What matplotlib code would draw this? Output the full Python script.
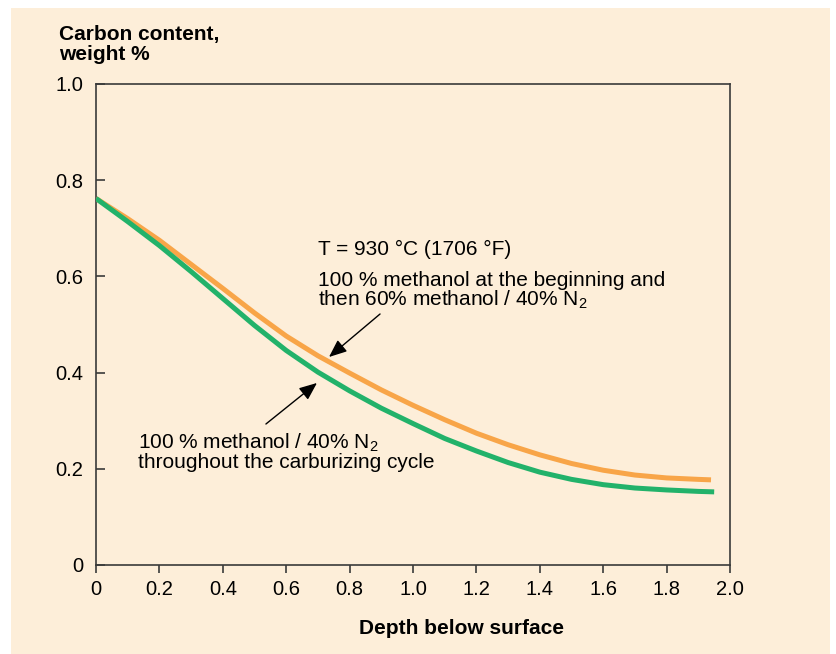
import matplotlib
matplotlib.use("Agg")
import matplotlib.pyplot as plt
from matplotlib.patches import Rectangle

plt.rcParams['font.family'] = ['Liberation Sans', 'DejaVu Sans']
plt.rcParams['mathtext.fontset'] = 'custom'
plt.rcParams['mathtext.rm'] = 'Liberation Sans'
plt.rcParams['mathtext.it'] = 'Liberation Sans:italic'
plt.rcParams['mathtext.bf'] = 'Liberation Sans:bold'

# --- data (depth vs carbon content, weight %) ---
depth = [0.0, 0.1, 0.2, 0.3, 0.4, 0.5, 0.6, 0.7, 0.8, 0.9, 1.0,
         1.1, 1.2, 1.3, 1.4, 1.5, 1.6, 1.7, 1.8, 1.9, 1.94]
carbon_switch = [0.762, 0.720, 0.675, 0.625, 0.575, 0.524, 0.476, 0.435, 0.399, 0.364, 0.332,
                 0.302, 0.274, 0.250, 0.229, 0.211, 0.197, 0.187, 0.181, 0.178, 0.177]

depth_n2 = [0.0, 0.1, 0.2, 0.3, 0.4, 0.5, 0.6, 0.7, 0.8, 0.9, 1.0,
            1.1, 1.2, 1.3, 1.4, 1.5, 1.6, 1.7, 1.8, 1.9, 1.95]
carbon_n2 = [0.762, 0.714, 0.664, 0.610, 0.554, 0.498, 0.446, 0.401, 0.362, 0.326, 0.294,
             0.263, 0.237, 0.213, 0.193, 0.178, 0.167, 0.160, 0.156, 0.153, 0.152]

xticks = [0, 0.2, 0.4, 0.6, 0.8, 1.0, 1.2, 1.4, 1.6, 1.8, 2.0]
xticklabels = ['0', '0.2', '0.4', '0.6', '0.8', '1.0', '1.2', '1.4', '1.6', '1.8', '2.0']
yticks = [0, 0.2, 0.4, 0.6, 0.8, 1.0]
yticklabels = ['0', '0.2', '0.4', '0.6', '0.8', '1.0']

CREAM = '#FDEED9'
ORANGE = '#F8A548'
GREEN = '#22B26A'
SPINE = '#3a3a3a'

fig = plt.figure(figsize=(8.37, 6.54), dpi=100, facecolor='white')
fig.patches.append(Rectangle((0.0131, 0.0), 0.9785, 0.9873, transform=fig.transFigure,
                             facecolor=CREAM, edgecolor='none', zorder=-10))

ax = fig.add_axes([0.1147, 0.1361, 0.7575, 0.7355])
ax.set_facecolor(CREAM)

ax.plot(depth, carbon_switch, color=ORANGE, lw=3.6, solid_capstyle='butt',
        solid_joinstyle='round', zorder=3)
ax.plot(depth_n2, carbon_n2, color=GREEN, lw=3.6, solid_capstyle='butt',
        solid_joinstyle='round', zorder=4)

ax.set_xlim(0, 2.0)
ax.set_ylim(0, 1.0)
ax.set_xticks(xticks)
ax.set_xticklabels(xticklabels)
ax.set_yticks(yticks)
ax.set_yticklabels(yticklabels)

for s in ax.spines.values():
    s.set_color(SPINE)
    s.set_linewidth(1.2)
ax.tick_params(axis='x', direction='out', length=6, width=1.2, color=SPINE,
               labelsize=14.5, pad=5)
ax.tick_params(axis='y', direction='in', length=6.5, width=1.2, color=SPINE,
               labelsize=14.5, pad=9)

# axis titles
fig.text(0.0705, 0.9396, 'Carbon content,', fontsize=15, fontweight='bold', va='baseline')
fig.text(0.0705, 0.9083, 'weight %', fontsize=15, fontweight='bold', va='baseline')
fig.text(0.5508, 0.0301, 'Depth below surface', fontsize=15, fontweight='bold',
         ha='center', va='baseline')

# annotations
ax.text(0.700, 0.6445, 'T = 930 °C (1706 °F)', fontsize=15, va='baseline')
ax.text(0.700, 0.5807, '100 % methanol at the beginning and', fontsize=15, va='baseline')
ax.text(0.700, 0.5385, 'then 60% methanol / 40% N$_2$', fontsize=15, va='baseline')
ax.text(0.1335, 0.2426, '100 % methanol / 40% N$_2$', fontsize=15, va='baseline')
ax.text(0.1335, 0.2010, 'throughout the carburizing cycle', fontsize=15, va='baseline')

arrow = dict(arrowstyle='-|>,head_length=0.6,head_width=0.25', color='black', lw=1,
             shrinkA=0, shrinkB=0, mutation_scale=18)
ax.annotate('', xy=(0.735, 0.4324), xytext=(0.896, 0.5218), arrowprops=arrow)
ax.annotate('', xy=(0.697, 0.3784), xytext=(0.536, 0.2931), arrowprops=arrow)

fig.savefig('out.png', dpi=100, facecolor='white')
